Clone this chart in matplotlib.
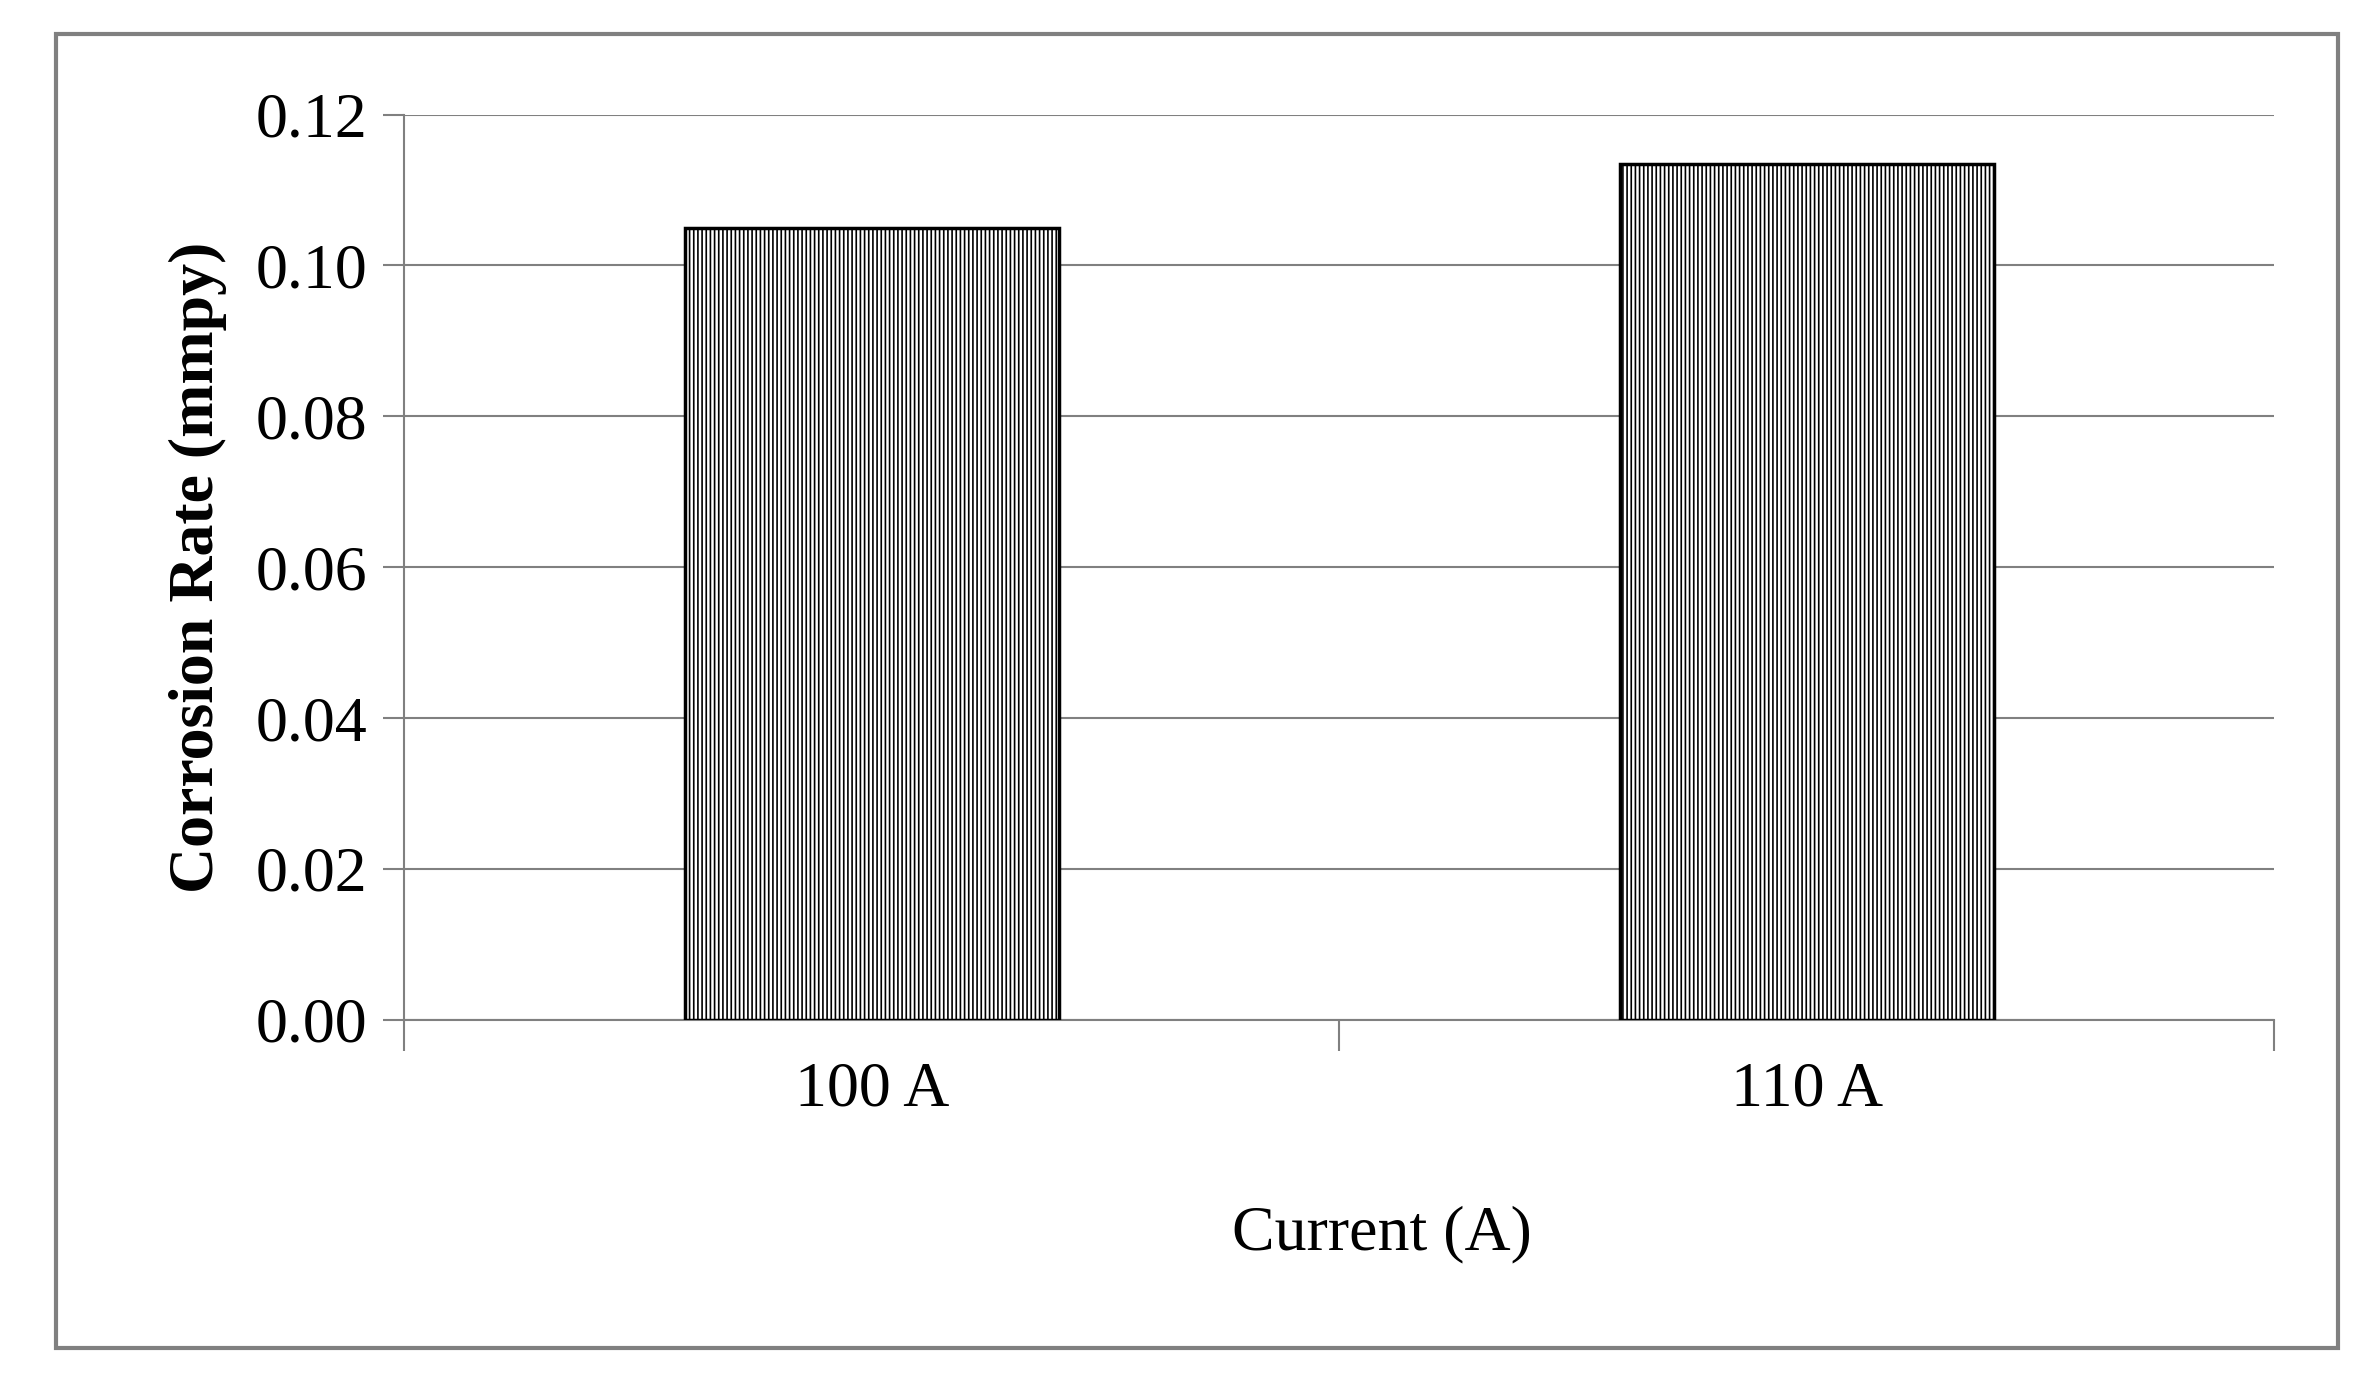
import matplotlib
matplotlib.use("Agg")
import matplotlib.pyplot as plt
from matplotlib.patches import Rectangle

categories = ["100 A", "110 A"]
values = [0.105, 0.1135]
yticks = [0.00, 0.02, 0.04, 0.06, 0.08, 0.10, 0.12]

plt.rcParams['font.family'] = ['Liberation Serif', 'DejaVu Serif']
plt.rcParams['hatch.linewidth'] = 1.2
fig = plt.figure(figsize=(23.79, 13.97), dpi=100)
ax = fig.add_axes([0.170, 0.270, 0.786, 0.648])
x = [0, 1]
ax.bar(x, values, width=0.40, color='white', edgecolor='black', hatch='||||', linewidth=2.5, zorder=3)
ax.set_xlim(-0.5, 1.5)
ax.set_ylim(0, 0.12)
ax.set_yticks(yticks)
ax.set_yticklabels([f"{v:.2f}" for v in yticks], fontsize=46)
ax.set_xticks([-0.5, 0.5, 1.5])
ax.set_xticklabels([])
ax.set_xticks(x, minor=True)
ax.set_xticklabels(categories, minor=True, fontsize=46)
ax.tick_params(axis='x', which='minor', length=0, pad=30)
ax.tick_params(axis='x', which='major', length=22, color='#808080', width=1.5)
ax.tick_params(axis='y', length=15, color='#808080', width=1.5, pad=12)
ax.grid(axis='y', color='#808080', linewidth=1.5, zorder=0)
for s in ['top', 'right']:
    ax.spines[s].set_visible(False)
for s in ['left', 'bottom']:
    ax.spines[s].set_color('#808080')
    ax.spines[s].set_linewidth(1.5)
ax.set_ylabel("Corrosion Rate (mmpy)", fontsize=46, fontweight='bold', labelpad=20)
fig.text(0.581, 0.116, "Current (A)", fontsize=46, ha='center', va='center')
fig.patches.append(Rectangle((0.0237, 0.035), 0.959, 0.941, transform=fig.transFigure,
                             fill=False, edgecolor='#808080', linewidth=3))
fig.savefig("out.png", dpi=100, facecolor='white')
